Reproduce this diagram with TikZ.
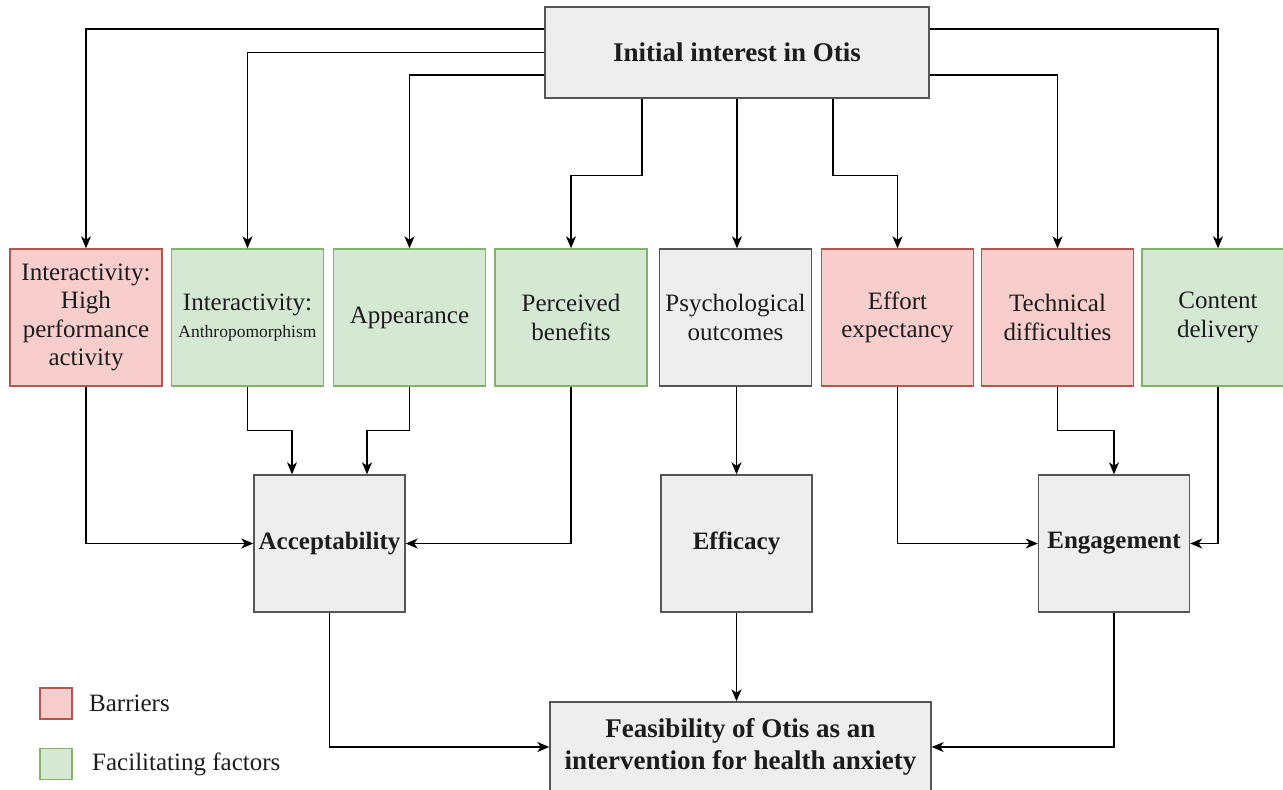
\documentclass[tikz,border=0pt]{standalone}
\usepackage{fontspec}
\setmainfont{Liberation Serif}
\usetikzlibrary{arrows.meta,positioning}

\definecolor{redfill}{HTML}{F8CECC}
\definecolor{redline}{HTML}{B85450}
\definecolor{greenfill}{HTML}{D5E8D4}
\definecolor{greenline}{HTML}{82B366}
\definecolor{grayfill}{HTML}{EEEEEE}
\definecolor{grayline}{HTML}{555555}
\definecolor{txt}{HTML}{1C1C1C}

\tikzset{
  box/.style={rectangle, inner sep=0pt, line width=1.4pt, align=center,
    text=txt, font=\fontsize{25}{28.5}\selectfont},
  factor/.style={box, minimum width=152pt, minimum height=137pt},
  outcome/.style={box, fill=grayfill, draw=grayline, minimum width=151pt,
    minimum height=137pt, font=\bfseries\fontsize{25}{28.5}\selectfont},
  barrier/.style={fill=redfill, draw=redline},
  facilitator/.style={fill=greenfill, draw=greenline},
  neutral/.style={fill=grayfill, draw=grayline},
  headbox/.style={box, neutral, font=\bfseries\fontsize{27}{32.4}\selectfont},
  arr/.style={line width=1.4pt, draw=black, -{Stealth[length=12pt,width=10pt,inset=3.5pt]}},
  legendsq/.style={rectangle, inner sep=0pt, minimum width=32pt, minimum height=31pt, line width=1.2pt},
  legendtxt/.style={anchor=west, inner sep=0pt, text=txt, font=\fontsize{25}{28.5}\selectfont}
}

\begin{document}
\begin{tikzpicture}[x=1pt,y=-1pt]
\useasboundingbox (0,0) rectangle (1283,790);

% source of all factors
\node[headbox, minimum width=384pt, minimum height=91pt] (top) at (737,52.5) {Initial interest in Otis};

% factor row
\node[factor, barrier]     (ihp)  at (86,317.5)    {Interactivity:\\High\\performance\\activity};
\node[factor, facilitator] (ant)  at (247.5,317.5) {Interactivity:\\[-2pt]{\fontsize{17.5}{21}\selectfont Anthropomorphism}};
\node[factor, facilitator] (app)  at (409.5,317.5) {Appearance};
\node[factor, facilitator] (pb)   at (571,317.5)   {Perceived\\benefits};
\node[factor, neutral]     (psy)  at (735.5,317.5) {Psychological\\outcomes};
\node[factor, barrier]     (ee)   at (897.5,317.5) {Effort\\expectancy};
\node[factor, barrier]     (tech) at (1057.5,317.5){Technical\\difficulties};
\node[factor, facilitator] (cd)   at (1218,317.5)  {Content\\delivery};

% outcome row
\node[outcome] (acc) at (329.5,543.5) {Acceptability};
\node[outcome] (eff) at (736.5,543.5) {Efficacy};
\node[outcome] (eng) at (1114,543.5)  {Engagement};

% overall result
\node[headbox, minimum width=381pt, minimum height=90pt] (feas) at (740.5,747)
  {Feasibility of Otis as an\\intervention for health anxiety};

% legend
\node[legendsq, barrier]     (lb) at (56,703.5) {};
\node[legendtxt] (lbt) at (89,703.5) {Barriers};
\node[legendsq, facilitator] (lf) at (56,764) {};
\node[legendtxt] (lft) at (92,764) {Facilitating factors};

% initial interest -> factors
\draw[arr] ([yshift=23.5pt]top.west) -| (ihp.north);
\draw[arr] (top.west) -| (ant.north);
\draw[arr] ([yshift=-22.5pt]top.west) -| (app.north);
\draw[arr] ([xshift=-95pt]top.south) -- ++(0,77) -| (pb.north);
\draw[arr] (top.south) -- (top.south |- psy.north);
\draw[arr] ([xshift=96pt]top.south) -- ++(0,77) -| (ee.north);
\draw[arr] ([yshift=-22.5pt]top.east) -| (tech.north);
\draw[arr] ([yshift=23.5pt]top.east) -| (cd.north);

% factors -> outcomes
\draw[arr] (ihp.south) |- (acc.west);
\draw[arr] (ant.south) -- ++(0,44) -| ([xshift=-37.5pt]acc.north);
\draw[arr] (app.south) -- ++(0,44) -| ([xshift=37.5pt]acc.north);
\draw[arr] (pb.south) |- (acc.east);
\draw[arr] (psy.south -| eff.north) -- (eff.north);
\draw[arr] (ee.south) |- (eng.west);
\draw[arr] (tech.south) -- ++(0,44) -| (eng.north);
\draw[arr] (cd.south) |- (eng.east);

% outcomes -> feasibility
\draw[arr] (acc.south) |- (feas.west);
\draw[arr] (eff.south) -- (eff.south |- feas.north);
\draw[arr] (eng.south) |- (feas.east);
\end{tikzpicture}
\end{document}
